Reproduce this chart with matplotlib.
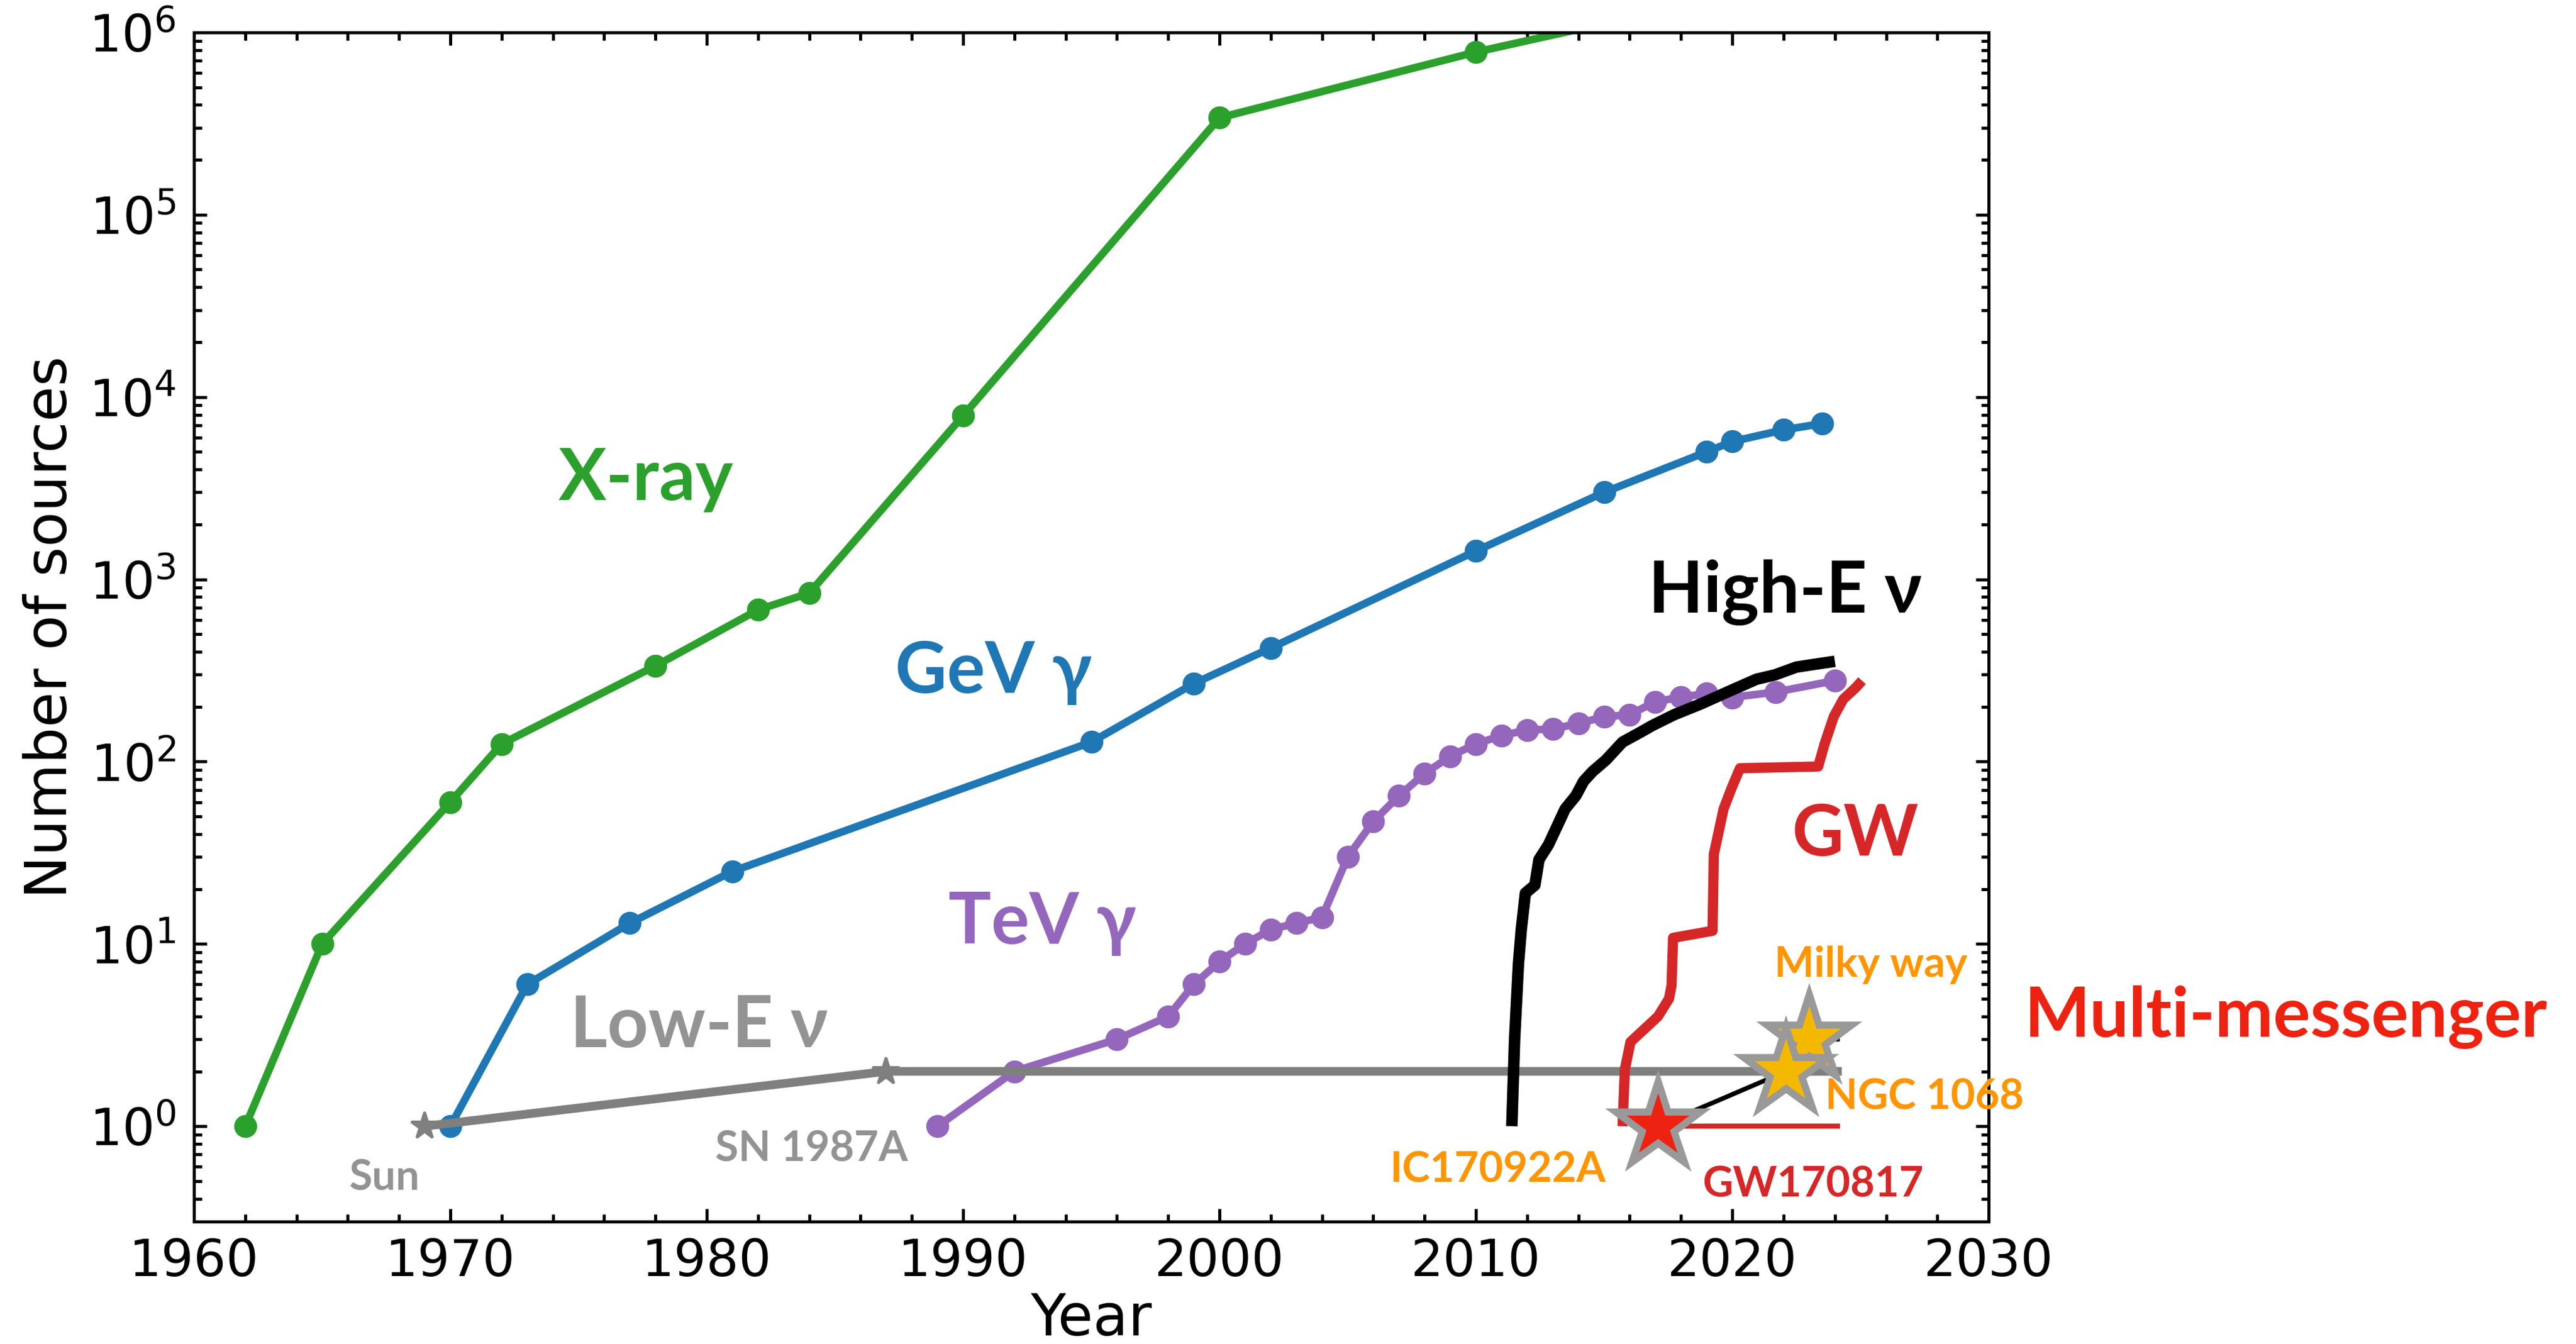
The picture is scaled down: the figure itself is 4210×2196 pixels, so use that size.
import matplotlib
matplotlib.use("Agg")
import matplotlib.pyplot as plt
from matplotlib.markers import MarkerStyle
from matplotlib.ticker import MultipleLocator, LogLocator, NullFormatter

# cumulative number of known sources per messenger
xray_year = [1962, 1965, 1970, 1972, 1978, 1982, 1984, 1990, 2000, 2010, 2020]
xray_n = [1, 10, 60, 125, 335, 680, 840, 7900, 3.4e5, 7.8e5, 1.6e6]

gev_year = [1970, 1973, 1977, 1981, 1995, 1999, 2002, 2010, 2015, 2019, 2020, 2022, 2023.5]
gev_n = [1, 6, 13, 25, 128, 268, 420, 1430, 3000, 5000, 5700, 6600, 7150]

tev_year = [1989, 1992, 1996, 1998, 1999, 2000, 2001, 2002, 2003, 2004, 2005, 2006, 2007,
            2008, 2009, 2010, 2011, 2012, 2013, 2014, 2015, 2016, 2017, 2018, 2019, 2020,
            2021.7, 2024]
tev_n = [1, 2, 3, 4, 6, 8, 10, 12, 13, 14, 30, 47, 65, 86, 107, 125, 139, 149, 151, 162,
         176, 181, 213, 226, 236, 225, 241, 278]

hen_year = [2011.40, 2011.51, 2011.66, 2011.77, 2011.93, 2012.30, 2012.46, 2012.83, 2013.16,
            2013.48, 2013.90, 2014.20, 2014.54, 2015.07, 2015.72, 2016.46, 2016.89, 2017.74,
            2018.80, 2019.87, 2020.94, 2021.66, 2022.5, 2023.1, 2024.0]
hen_n = [1, 3.0, 7.8, 12, 19, 21, 29, 35, 44, 55, 65, 78, 88, 102, 128, 146, 158, 181, 208,
         243, 283, 299, 330, 340, 355]

gw_year = [2015.72, 2015.81, 2016.03, 2017.10, 2017.53, 2017.63, 2017.69, 2019.23, 2019.28,
           2019.66, 2019.98, 2020.30, 2023.35, 2023.60, 2023.96, 2024.33, 2024.82, 2025.06]
gw_n = [1, 2.05, 2.9, 4.0, 5.0, 5.9, 10.8, 11.8, 31, 55, 72, 92, 94, 125, 177, 220, 255, 278]

lowe_year = [1969, 1987, 2024.1]
lowe_n = [1, 2, 2]

# multi-messenger detections
mm_nu_year = [2017.1, 2022.1, 2023.0, 2024.1]
mm_nu_n = [1, 2, 3, 3]
mm_gw_year = [2017.1, 2024.1]
mm_gw_n = [1, 1]

star_year = [2017.1, 2023.0, 2022.1]
star_n = [1, 3, 2]
star_fill = ['#ee2211', '#f5b800', '#f5b800']

GREEN = '#2ca02c'
BLUE = '#1f77b4'
PURPLE = '#9467bd'
RED = '#d62728'
GRAY = '#7f7f7f'
LGRAY = '#939393'
ORANGE = '#ff9500'
LABEL_FONT = ['Lato', 'DejaVu Sans']

fig = plt.figure(figsize=(4210 / 300, 2196 / 300), dpi=300)
ax = fig.add_axes([0.0753, 0.0911, 0.6967, 0.8848])

ax.plot(xray_year, xray_n, '-o', color=GREEN, lw=3, ms=8)
ax.plot(gev_year, gev_n, '-o', color=BLUE, lw=3, ms=8)
ax.plot(tev_year, tev_n, '-o', color=PURPLE, lw=3, ms=8)
ax.plot(lowe_year, lowe_n, '-*', color=GRAY, lw=3.4, ms=11, markevery=[0, 1])
ax.plot(hen_year, hen_n, '-', color='black', lw=4.5, solid_capstyle='butt')
ax.plot(gw_year, gw_n, '-', color=RED, lw=4, solid_capstyle='butt')
ax.plot(mm_gw_year, mm_gw_n, '-', color=RED, lw=2)
ax.plot(mm_nu_year, mm_nu_n, '-', color='black', lw=1.8)

star = MarkerStyle('*', joinstyle='miter')
for yr, n, c in zip(star_year, star_n, star_fill):
    ax.plot(yr, n, linestyle='none', marker=star, ms=35, mfc=c, mec='#999999', mew=2.8)

ax.set_yscale('log')
ax.set_xlim(1960, 2030)
ax.set_ylim(0.3, 1e6)
ax.xaxis.set_major_locator(MultipleLocator(10))
ax.xaxis.set_minor_locator(MultipleLocator(2))
ax.yaxis.set_major_locator(LogLocator(base=10, numticks=20))
ax.yaxis.set_minor_locator(LogLocator(base=10, subs=range(2, 10), numticks=20))
ax.yaxis.set_minor_formatter(NullFormatter())

ax.tick_params(which='both', direction='in', top=True, right=True, width=1.2, labelsize=20)
ax.tick_params(which='major', length=5)
ax.tick_params(which='minor', length=3)
ax.tick_params(axis='y', pad=7)
ax.tick_params(axis='x', pad=6)
for s in ax.spines.values():
    s.set_linewidth(1.2)

ax.set_xlabel('Year', fontsize=22.5, labelpad=2)
ax.set_ylabel('Number of sources', fontsize=22.5)

# messenger labels
big = dict(family=LABEL_FONT, weight='bold', fontsize=28, ha='left', va='baseline')
small = dict(family=LABEL_FONT, weight='bold', fontsize=16.5, ha='left', va='baseline')
ax.text(1974.23, 2730, 'X-ray', color=GREEN, **big)
ax.text(1987.36, 239, 'GeV γ', color=BLUE, **big)
ax.text(1989.43, 10.0, 'TeV γ', color=PURPLE, **big)
ax.text(2016.72, 658, 'High-E ν', color='black', **big)
ax.text(2022.33, 30.5, 'GW', color=RED, **big)
ax.text(1974.68, 2.71, 'Low-E ν', color=LGRAY, **big)
ax.text(2031.4, 3.1, 'Multi-messenger', color='#ee2211', clip_on=False,
        **{**big, 'fontsize': 27.2})

ax.text(1966.04, 0.448, 'Sun', color=LGRAY, **small)
ax.text(1980.34, 0.644, 'SN 1987A', color=LGRAY, **small)
ax.text(2006.65, 0.495, 'IC170922A', color=ORANGE, **small)
ax.text(2018.84, 0.411, 'GW170817', color=RED, **small)
ax.text(2023.62, 1.24, 'NGC 1068', color=ORANGE, **small)
ax.text(2021.64, 6.6, 'Milky way', color=ORANGE, **small)

fig.savefig('out.png', dpi=300)
